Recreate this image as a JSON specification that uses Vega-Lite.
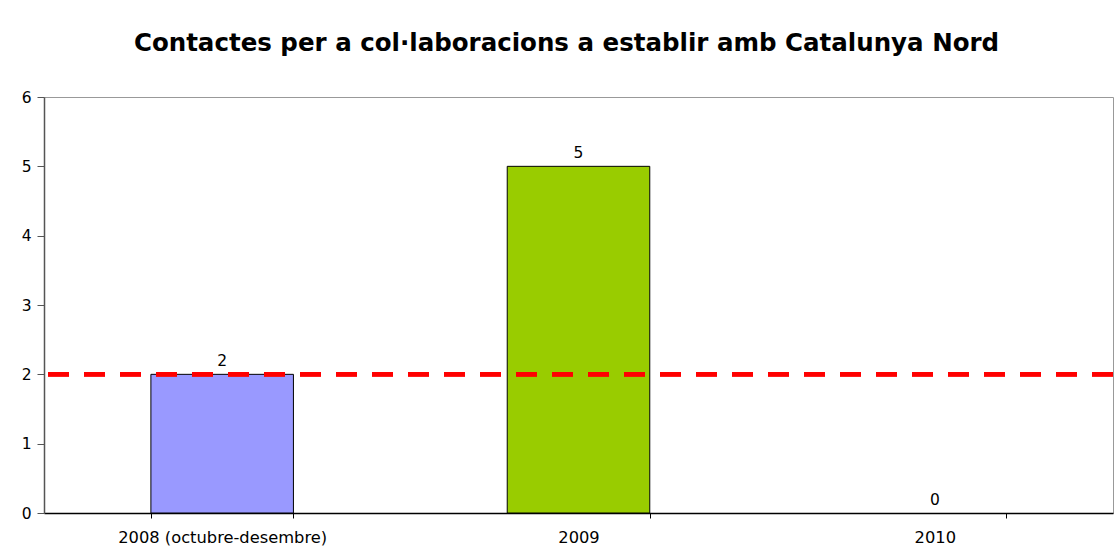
{
  "$schema": "https://vega.github.io/schema/vega-lite/v6.json",
  "autosize": {"type": "none"},
  "width": 1069,
  "height": 416,
  "padding": {"left": 44, "top": 97, "right": 2, "bottom": 44},
  "background": "white",
  "title": {
    "text": "Contactes per a col·laboracions a establir amb Catalunya Nord",
    "font": "DejaVu Sans",
    "fontSize": 24.5,
    "fontWeight": "bold",
    "color": "black",
    "anchor": "middle",
    "baseline": "alphabetic",
    "offset": 15,
    "dx": -12
  },
  "config": {
    "font": "DejaVu Sans",
    "view": {"stroke": "#999999", "strokeWidth": 1}
  },
  "data": {
    "values": [
      {"periode": "2008 (octubre-desembre)", "contactes": 2},
      {"periode": "2009", "contactes": 5},
      {"periode": "2010", "contactes": 0}
    ]
  },
  "layer": [
    {
      "transform": [{"filter": "datum.contactes > 0"}],
      "mark": {"type": "bar", "stroke": "black", "strokeWidth": 1},
      "encoding": {
        "x": {
          "field": "periode",
          "type": "nominal",
          "sort": null,
          "scale": {"domain": ["2008 (octubre-desembre)", "2009", "2010"], "paddingInner": 0.6, "paddingOuter": 0.3},
          "axis": {
            "title": null,
            "labelAngle": 0,
            "labelFontSize": 16.3,
            "labelLimit": 0,
            "labelColor": "black",
            "labelPadding": 11,
            "tickBand": "extent",
            "tickSize": 5,
            "tickColor": "black",
            "domainColor": "black",
            "domainWidth": 1.5
          }
        },
        "y": {
          "field": "contactes",
          "type": "quantitative",
          "scale": {"domain": [0, 6]},
          "axis": {
            "title": null,
            "values": [0, 1, 2, 3, 4, 5, 6],
            "format": "d",
            "grid": false,
            "labelFontSize": 15.5,
            "labelColor": "black",
            "labelPadding": 6,
            "tickSize": 7,
            "tickColor": "#555555",
            "domainColor": "#555555",
            "domainWidth": 1.5
          }
        },
        "color": {
          "field": "periode",
          "type": "nominal",
          "scale": {
            "domain": ["2008 (octubre-desembre)", "2009", "2010"],
            "range": ["#9999FF", "#99CC00", "#FF9900"]
          },
          "legend": null
        }
      }
    },
    {
      "mark": {"type": "text", "baseline": "alphabetic", "dy": -8, "fontSize": 15.5, "color": "black"},
      "encoding": {
        "x": {"field": "periode", "type": "nominal", "sort": null},
        "y": {"field": "contactes", "type": "quantitative"},
        "text": {"field": "contactes", "type": "quantitative"}
      }
    },
    {
      "mark": {"type": "rule", "color": "#FF0000", "strokeWidth": 4.5, "strokeDash": [21, 15]},
      "encoding": {"y": {"datum": 2}}
    }
  ]
}
